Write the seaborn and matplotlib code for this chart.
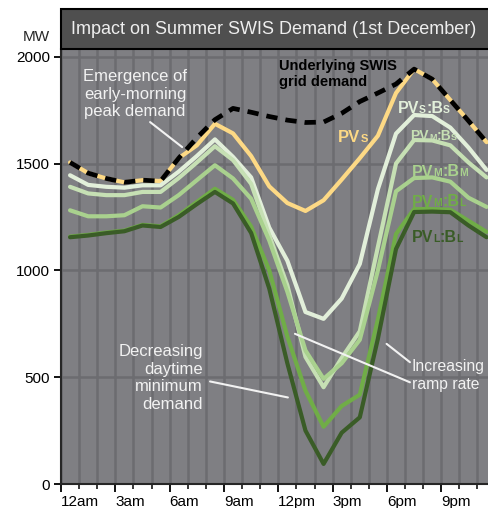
import numpy as np
import pandas as pd
import seaborn as sns
import matplotlib.pyplot as plt
from matplotlib.patches import Rectangle
from matplotlib.ticker import MultipleLocator

# ---------------- data (MW, half-hour points) ----------------
hours = [h + 0.5 for h in range(24)]

underlying = [1505, 1455, 1430, 1412, 1422, 1418, 1525, 1620, 1705, 1758, 1740, 1720,
              1703, 1692, 1694, 1735, 1790, 1830, 1872, 1942, 1895, 1797, 1700, 1600]
pv_s = [1505, 1455, 1430, 1412, 1422, 1418, 1525, 1585, 1686, 1641, 1535, 1393,
        1315, 1278, 1328, 1425, 1525, 1630, 1830, 1942, 1895, 1797, 1700, 1600]
pv_s_b_s = [1445, 1400, 1391, 1387, 1398, 1398, 1462, 1535, 1613, 1531, 1435, 1200,
            1045, 805, 773, 868, 1030, 1380, 1640, 1727, 1722, 1668, 1575, 1470]
pv_m_b_s = [1391, 1360, 1352, 1352, 1367, 1367, 1432, 1505, 1581, 1516, 1405, 1165,
            930, 595, 453, 590, 715, 1110, 1500, 1610, 1608, 1585, 1505, 1435]
pv_m_b_m = [1281, 1253, 1253, 1258, 1300, 1294, 1352, 1422, 1492, 1430, 1335, 1140,
            900, 625, 492, 565, 675, 1000, 1370, 1432, 1435, 1415, 1340, 1297]
pv_m_b_l = [1158, 1166, 1177, 1186, 1213, 1206, 1258, 1320, 1382, 1330, 1205, 1000,
            690, 437, 268, 365, 418, 770, 1170, 1287, 1287, 1284, 1232, 1180]
pv_l_b_l = [1155, 1163, 1174, 1183, 1210, 1203, 1250, 1310, 1367, 1313, 1175, 915,
            565, 250, 94, 240, 312, 680, 1100, 1273, 1275, 1272, 1210, 1155]

series_names = ['PVs', 'PVs:Bs', 'PVm:Bs', 'PVm:Bm', 'PVm:BL', 'PVL:BL']
series_values = [pv_s, pv_s_b_s, pv_m_b_s, pv_m_b_m, pv_m_b_l, pv_l_b_l]
colors = ['#fdd985', '#e2efda', '#c6e0b4', '#a9d18e', '#70ad47', '#3a5c27']

x_tick_pos = [0, 3, 6, 9, 12, 15, 18, 21]
x_tick_labels = ['12am', '3am', '6am', '9am', '12pm', '3pm', '6pm', '9pm']

df = pd.DataFrame({'hour': hours * len(series_names),
                   'MW': sum(series_values, []),
                   'series': [n for n in series_names for _ in hours]})

# ---------------- style ----------------
sns.set_style('ticks')
plt.rcParams['font.family'] = ['Liberation Sans', 'DejaVu Sans']

W, H = 488, 508
fig = plt.figure(figsize=(W / 100, H / 100), dpi=100)
ax = fig.add_axes([61 / W, 24 / H, 1 - 61 / W, 435 / H])
ax.set_facecolor('#7f7f83')

for name, col in zip(series_names, colors):
    sns.lineplot(data=df[df.series == name], x='hour', y='MW', color=col,
                 linewidth=3.0, ax=ax, legend=False, zorder=3)
sns.lineplot(x=hours, y=underlying, color='black', linewidth=3.4,
             linestyle=(0, (2.4, 1.7)), ax=ax, zorder=4)

ax.set_xlim(0, 23.58)
ax.set_ylim(0, 2036)
ax.xaxis.set_major_locator(MultipleLocator(3))
ax.xaxis.set_minor_locator(MultipleLocator(1))
ax.set_xticks(x_tick_pos)
ax.set_xticklabels(x_tick_labels, ha='left')
ax.set_yticks([0, 500, 1000, 1500, 2000])
ax.grid(which='both', axis='x', color='#6c6c70', linewidth=1.8, zorder=0)
ax.grid(which='major', axis='y', color='#6c6c70', linewidth=1.8, zorder=0)
ax.set_axisbelow(True)
ax.tick_params(axis='both', which='major', labelsize=11, colors='black', width=1.3)
ax.tick_params(axis='x', which='major', length=6, pad=2)
ax.tick_params(axis='x', which='minor', length=3.5, width=1.3)
ax.tick_params(axis='y', length=5, pad=3)
ax.set_xlabel('')
ax.set_ylabel('')
for s in ['top', 'right']:
    ax.spines[s].set_visible(False)
for s in ['left', 'bottom']:
    ax.spines[s].set_linewidth(1.5)

# title strip
fig.patches.append(Rectangle((61 / W, (H - 49) / H), 0.95, 40 / H, transform=fig.transFigure,
                             facecolor='#4f4f4f', edgecolor='black', linewidth=1.5))
fig.text(71 / W, (H - 30) / H, 'Impact on Summer SWIS Demand (1st December)',
         color='#eeeeee', fontsize=13, va='center', ha='left')
fig.text(50 / W, (H - 37) / H, 'MW', fontsize=11, ha='right', va='center')


# series labels: big letters with small-cap suffixes on the same baseline
def small_caps_label(x, y, parts, color, big=11, small=7.5):
    first = ax.text(x, y, parts[0], color=color, fontsize=big, fontweight='bold',
                    va='baseline', ha='left', zorder=6)
    prev = first
    for i, p in enumerate(parts[1:], 1):
        size = small if i % 2 else big
        prev = ax.annotate(p, xy=(1, 0), xycoords=(prev, first), xytext=(0, 0.21 * big),
                           textcoords='offset points', color=color, fontsize=size,
                           fontweight='bold', va='baseline', ha='left', zorder=6)


ax.text(12.04, 1918, 'Underlying SWIS\ngrid demand', color='black', fontsize=10.5,
        fontweight='bold', va='center', ha='left', linespacing=1.15)
small_caps_label(15.3, 1600, ['PV', 'S'], colors[0], big=12, small=8)
small_caps_label(18.6, 1735, ['PV', 'S', ':B', 'S'], colors[1], big=11.5, small=7.5)
small_caps_label(19.3, 1612, ['PV', 'M', ':B', 'S'], colors[2], big=10, small=6.5)
small_caps_label(19.4, 1438, ['PV', 'M', ':B', 'M'], colors[3], big=11.5, small=7.5)
small_caps_label(19.4, 1298, ['PV', 'M', ':B', 'L'], colors[4], big=11.5, small=7.5)
small_caps_label(19.35, 1133, ['PV', 'L', ':B', 'L'], colors[5], big=11.5, small=7.5)

# annotations
wt = '#f2f2f2'
ax.text(4.09, 1825, 'Emergence of\nearly-morning\npeak demand', color=wt, fontsize=12,
        ha='center', va='center', multialignment='center', linespacing=1.2, zorder=5)
ax.plot([4.92, 6.69], [1694, 1577], color=wt, lw=1.5, zorder=5)
ax.text(7.84, 496, 'Decreasing\ndaytime\nminimum\ndemand', color=wt, fontsize=12,
        ha='right', va='center', multialignment='right', linespacing=1.22, zorder=5)
ax.plot([8.23, 12.53], [480, 405], color=wt, lw=1.5, zorder=5)
ax.text(19.38, 508, 'Increasing\nramp rate', color=wt, fontsize=11.3,
        ha='left', va='center', linespacing=1.2, zorder=5)
ax.plot([17.98, 19.27], [656, 570], color=wt, lw=1.5, zorder=5)
ax.plot([12.92, 19.27], [703, 476], color=wt, lw=1.5, zorder=5)

plt.savefig('out.png', dpi=100)
plt.close()
